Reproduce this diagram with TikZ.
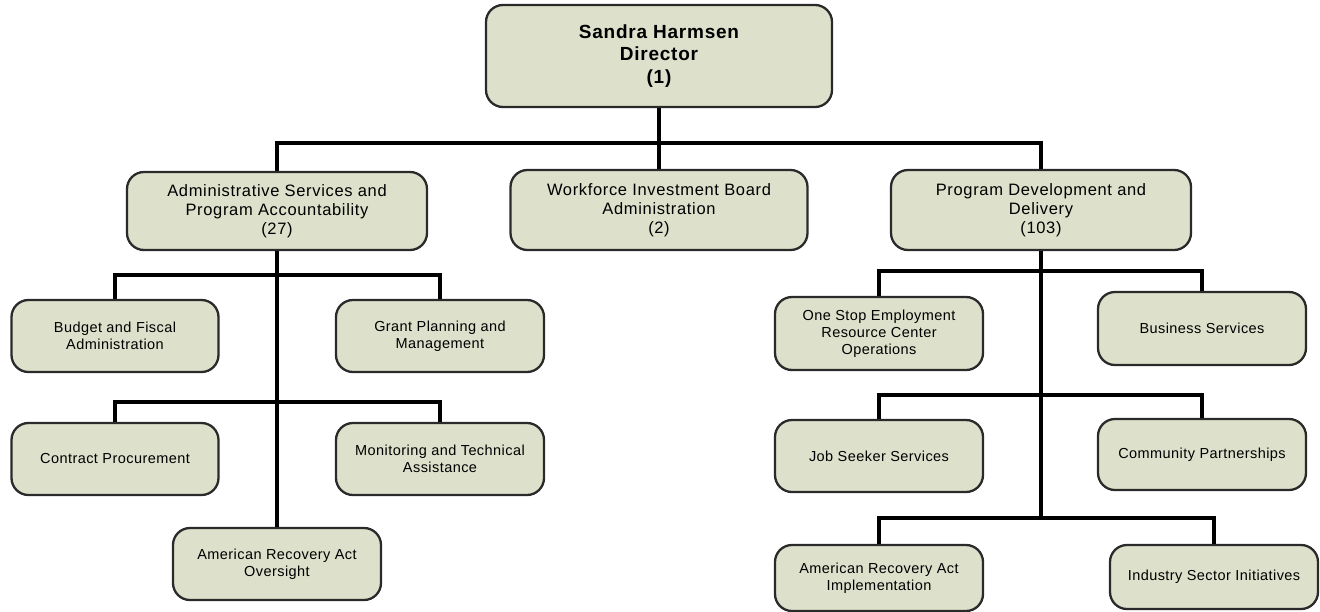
\documentclass[tikz,border=0pt]{standalone}
\usepackage{fontspec}
\setmainfont{Liberation Sans}
\newfontfamily\lvlthree[LetterSpace=3]{Liberation Sans}
\newfontfamily\lvltwo[LetterSpace=4]{Liberation Sans}
\newfontfamily\lvlone[LetterSpace=4]{Liberation Sans}
\definecolor{boxfill}{HTML}{DDE0CB}
\definecolor{boxdraw}{HTML}{2A2A2A}
\tikzset{
  x=1pt, y=-1pt,
  box/.style={draw=boxdraw, line width=2.3pt, fill=boxfill, rounded corners=17pt, align=center, inner sep=0pt},
  topbox/.style={box, font=\lvlone\fontsize{19}{22.5}\selectfont\bfseries},
  midbox/.style={box, font=\lvltwo\fontsize{16.5}{19}\selectfont},
  lowbox/.style={box, font=\lvlthree\fontsize{14.5}{17}\selectfont},
  conn/.style={line width=4.6pt, black}
}
\begin{document}
\begin{tikzpicture}
\useasboundingbox (0,0) rectangle (1320,611);
\coordinate (busT) at (659,143);
\coordinate (busL1) at (277,275);
\coordinate (busL2) at (277,402);
\coordinate (busR1) at (1041,271);
\coordinate (busR2) at (1041,395);
\coordinate (busR3) at (1041,518);

% boxes
\node[topbox, minimum width=346pt, minimum height=102pt] (dir) at (659,56) {Sandra Harmsen\\Director\\(1)};
\node[midbox, minimum width=300pt, minimum height=78pt] (admin) at (277,211) {Administrative Services and\\Program Accountability\\(27)};
\node[midbox, minimum width=297pt, minimum height=80pt] (wib) at (659,210) {Workforce Investment Board\\Administration\\(2)};
\node[midbox, minimum width=300pt, minimum height=80pt] (pdd) at (1041,210) {Program Development and\\Delivery\\(103)};

\node[lowbox, minimum width=207pt, minimum height=72pt] (budget) at (115,336) {Budget and Fiscal\\Administration};
\node[lowbox, minimum width=208pt, minimum height=72pt] (grant) at (440,336) {Grant Planning and\\Management};
\node[lowbox, minimum width=207pt, minimum height=72pt] (contract) at (115,459) {Contract Procurement};
\node[lowbox, minimum width=208pt, minimum height=72pt] (monitor) at (440,459) {Monitoring and Technical\\Assistance};
\node[lowbox, minimum width=208pt, minimum height=72pt] (araO) at (277,564) {American Recovery Act\\Oversight};

\node[lowbox, minimum width=208pt, minimum height=73pt] (onestop) at (879,333.5) {One Stop Employment\\Resource Center\\Operations};
\node[lowbox, minimum width=208pt, minimum height=73pt] (business) at (1202,328.5) {Business Services};
\node[lowbox, minimum width=208pt, minimum height=72pt] (jobseek) at (879,456) {Job Seeker Services};
\node[lowbox, minimum width=208pt, minimum height=71pt] (community) at (1202,454.5) {Community Partnerships};
\node[lowbox, minimum width=208pt, minimum height=66pt] (araI) at (879,578) {American Recovery Act\\Implementation};
\node[lowbox, minimum width=208pt, minimum height=64pt] (industry) at (1214,577) {Industry Sector Initiatives};

% connectors
\draw[conn] (dir.south) -- (wib.north);
\draw[conn] (admin.north) -- (admin.north |- busT) -- (pdd.north |- busT) -- (pdd.north);

\draw[conn] (admin.south) -- (araO.north);
\draw[conn] (budget.north) -- (budget.north |- busL1) -- (grant.north |- busL1) -- (grant.north);
\draw[conn] (contract.north) -- (contract.north |- busL2) -- (monitor.north |- busL2) -- (monitor.north);

\draw[conn] (pdd.south) -- (busR3);
\draw[conn] (onestop.north) -- (onestop.north |- busR1) -- (business.north |- busR1) -- (business.north);
\draw[conn] (jobseek.north) -- (jobseek.north |- busR2) -- (community.north |- busR2) -- (community.north);
\draw[conn] (araI.north) -- (araI.north |- busR3) -- (industry.north |- busR3) -- (industry.north);
\end{tikzpicture}
\end{document}
